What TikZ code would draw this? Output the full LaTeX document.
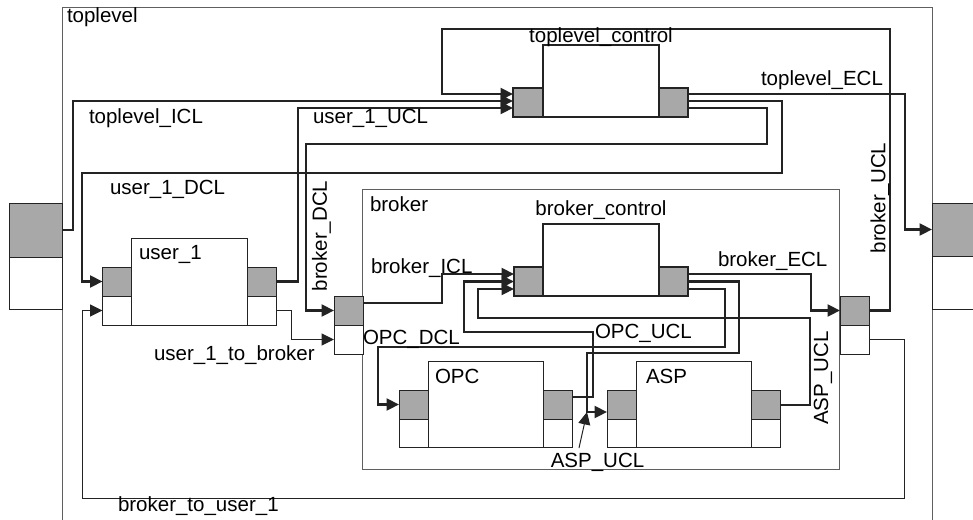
\documentclass[tikz,border=0pt]{standalone}
\usepackage{fontspec}
\setmainfont{Liberation Sans}
\usetikzlibrary{arrows.meta, positioning}
\definecolor{portgray}{RGB}{168,168,168}
\definecolor{framegray}{RGB}{95,95,95}
\definecolor{linegray}{RGB}{35,35,35}

\begin{document}
\begin{tikzpicture}[x=1pt, y=-1pt, >={Triangle[length=12.5pt, width=12pt]},
    font=\fontsize{20.5}{24}\selectfont,
    every node/.style={inner sep=0pt, outer sep=0pt},
    frame/.style={draw=framegray, line width=1pt, anchor=north west},
    block/.style={draw=linegray, line width=1pt, fill=white, anchor=north west},
    ctrl/.style={draw=linegray, line width=2pt, fill=white, anchor=north west},
    gport/.style={draw=linegray, line width=1pt, fill=portgray, anchor=north west,
                  minimum width=29pt, minimum height=29pt},
    wport/.style={draw=linegray, line width=1pt, fill=white, anchor=north west,
                  minimum width=29pt, minimum height=29pt},
    wire/.style={->, line width=2.2pt, linegray},
    thinwire/.style={->, line width=1pt, linegray},
    lbl/.style={anchor=west}]
  \useasboundingbox (0,0) rectangle (973,519);
  \clip (0,0) rectangle (973,519);

  % toplevel frame and its ports
  \node[frame, minimum width=870pt, minimum height=540pt] (toplevel) at (62,8) {};
  \node[gport, minimum width=53pt, minimum height=54pt] (tl-in) at (9,203) {};
  \node[wport, minimum width=53pt, minimum height=52pt] (tl-in-w) at (9,257) {};
  \node[gport, minimum width=53pt, minimum height=53pt] (tl-out) at (932,203) {};
  \node[wport, minimum width=53pt, minimum height=53pt] (tl-out-w) at (932,256) {};

  % toplevel_control
  \node[ctrl, minimum width=116pt, minimum height=72pt] (tlc) at (543,45) {};
  \node[gport, line width=2pt, minimum width=30pt] (tlc-in) at (513,88) {};
  \node[gport, line width=2pt] (tlc-out) at (659,88) {};

  % user_1
  \node[block, minimum width=116pt, minimum height=87pt] (user1) at (131.5,238) {};
  \node[gport] (u1-in) at (102.5,267) {};
  \node[wport] (u1-in-w) at (102.5,296) {};
  \node[gport] (u1-out) at (247.5,267) {};
  \node[wport] (u1-out-w) at (247.5,296) {};

  % broker frame and its ports
  \node[frame, minimum width=477pt, minimum height=280pt] (broker) at (362.5,189) {};
  \node[gport] (bk-in) at (334,296) {};
  \node[wport] (bk-in-w) at (334,325) {};
  \node[gport] (bk-out) at (840,296) {};
  \node[wport] (bk-out-w) at (840,325) {};

  % broker_control
  \node[ctrl, minimum width=116pt, minimum height=72pt] (bc) at (543,224) {};
  \node[gport, line width=2pt] (bc-in) at (514,267) {};
  \node[gport, line width=2pt] (bc-out) at (659,267) {};

  % OPC
  \node[block, minimum width=115.5pt, minimum height=86pt] (opc) at (428,361) {};
  \node[gport] (opc-in) at (399,390) {};
  \node[wport, minimum height=28pt] (opc-in-w) at (399,419) {};
  \node[gport] (opc-out) at (543.5,390) {};
  \node[wport, minimum height=28pt] (opc-out-w) at (543.5,419) {};

  % ASP
  \node[block, minimum width=115.5pt, minimum height=86pt] (asp) at (636,361) {};
  \node[gport] (asp-in) at (607,390) {};
  \node[wport, minimum height=28pt] (asp-in-w) at (607,419) {};
  \node[gport] (asp-out) at (751.5,390) {};
  \node[wport, minimum height=28pt] (asp-out-w) at (751.5,419) {};

  % toplevel level connectors
  \draw[wire] (tl-in.east) -- (73,230) -- (73,101) -- (tlc-in.west |- 0,101);
  \draw[wire] (tlc-out.east |- 0,94) -- (905,94) |- (tl-out.west);
  \draw[wire] (tlc-out.east |- 0,101) -- (782,101) -- (782,173) -- (82,173)
    |- (u1-in.west);
  \draw[wire] (tlc-out.east |- 0,108) -- (767,108) -- (767,144) -- (306,144)
    |- (bk-in.west);
  \draw[wire] (u1-out.east) -- (298,281.5) |- (tlc-in.west |- 0,108);
  \draw[wire] (bk-out.east) -- (890,310.5) -- (890,29) -- (442,29)
    |- (tlc-in.west |- 0,94);
  \draw[thinwire] (u1-out-w.east) -- (291,310.5) |- (bk-in-w.west);
  \draw[thinwire] (bk-out-w.east) -- (904,339.5) -- (904,498) -- (82,498)
    |- (u1-in-w.west);

  % broker level connectors
  \draw[wire] (bk-in.east |- 0,303) -- (442,303) |- (bc-in.west |- 0,274);
  \draw[wire] (bc-out.east |- 0,274) -- (811,274) |- (bk-out.west);
  \draw[wire] (bc-out.east) -- (739,281.5) -- (739,353) -- (587,353)
    |- (asp-in.west |- 0,412);
  \draw[wire] (bc-out.east |- 0,289) -- (725,289) -- (725,347) -- (378,347)
    |- (opc-in.west);
  \draw[wire] (opc-out.east |- 0,397) -- (593,397) -- (593,332) -- (464,332)
    |- (bc-in.west);
  \draw[wire] (asp-out.east |- 0,405) -- (810,405) -- (810,318) -- (478,318)
    |- (bc-in.west |- 0,289);

  % labels
  \node[lbl] (toplevel-lbl) at (67,17) {toplevel};
  \node (tlc-lbl) at (601,37) {toplevel\_control};
  \node[lbl] (user1-lbl) at (139,254) {user\_1};
  \node[lbl] (broker-lbl) at (370,204) {broker};
  \node (bc-lbl) at (601,210) {broker\_control};
  \node[lbl] (opc-lbl) at (435,376) {OPC};
  \node[lbl] (asp-lbl) at (646,376) {ASP};

  \node[lbl] (tl-ecl) at (761,80) {toplevel\_ECL};
  \node[lbl] (tl-icl) at (89,118) {toplevel\_ICL};
  \node[lbl] (u1-ucl) at (313,118) {user\_1\_UCL};
  \node[lbl] (u1-dcl) at (110,189) {user\_1\_DCL};
  \node[rotate=90] (bk-dcl) at (321.5,236) {broker\_DCL};
  \node[rotate=90] (bk-ucl) at (880,198) {broker\_UCL};
  \node[lbl] (bk-icl) at (371,268) {broker\_ICL};
  \node[lbl] (bk-ecl) at (718,261) {broker\_ECL};
  \node[lbl] (opc-dcl) at (363,339) {OPC\_DCL};
  \node[lbl] (opc-ucl) at (595,333) {OPC\_UCL};
  \node[rotate=90] (asp-ucl) at (823,378) {ASP\_UCL};
  \node[lbl] (u1-to-bk) at (154,355) {user\_1\_to\_broker};
  \node[lbl] (bk-to-u1) at (118,506) {broker\_to\_user\_1};

  % ASP_UCL pointer
  \node (asp-ucl-b) at (597.5,462) {ASP\_UCL};
  \coordinate (asp-join) at (587,412);
  \coordinate (asp-ptr) at (579,448);
  \draw[thinwire] (asp-ptr) -- (asp-join);
\end{tikzpicture}
\end{document}
